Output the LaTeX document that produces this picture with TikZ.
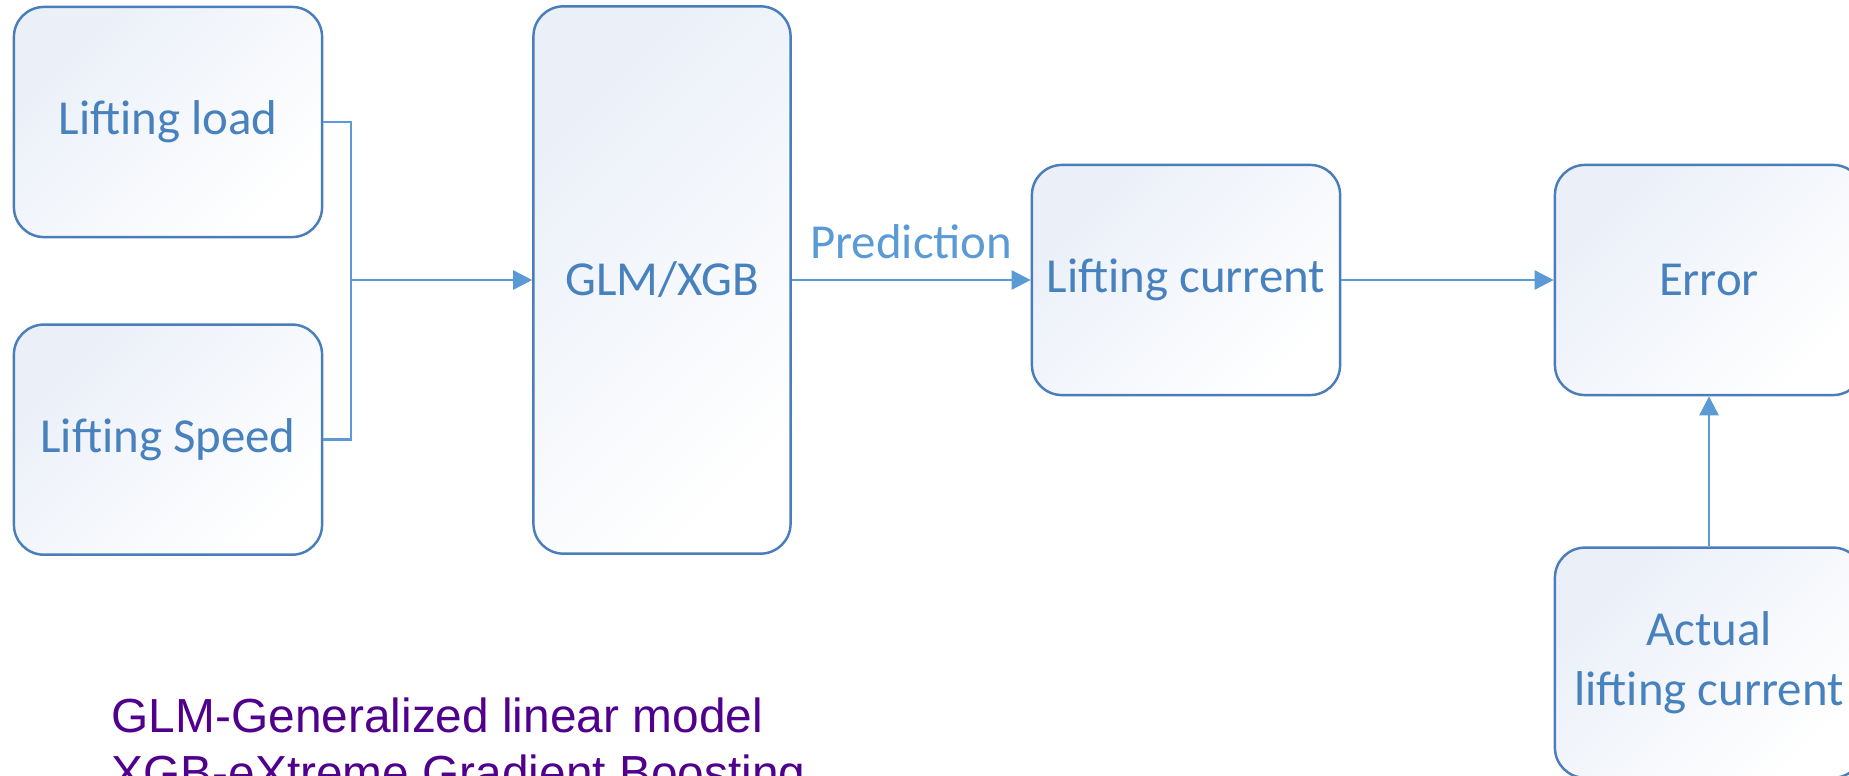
\documentclass[tikz,border=0pt]{standalone}
\usepackage{fontspec}
\setmainfont{Carlito}
\newfontfamily\notefont{Liberation Sans}
\usetikzlibrary{arrows.meta,positioning}
\definecolor{boxline}{RGB}{74,126,187}
\definecolor{boxtext}{RGB}{72,130,190}
\definecolor{flowline}{RGB}{91,155,213}
\definecolor{boxtop}{RGB}{234,239,248}
\definecolor{notecol}{RGB}{80,0,140}
\tikzset{
  block/.style ={draw=boxline,line width=0.7pt,rounded corners=0.3cm,
                 top color=boxtop,bottom color=white,shading angle=45,
                 minimum width=3.08cm,minimum height=2.3cm,inner sep=2pt,
                 align=center,text=boxtext,font=\fontsize{13.9}{16.8}\selectfont},
  model/.style ={block,minimum width=2.57cm,minimum height=5.47cm},
  link/.style  ={draw=flowline,line width=0.75pt},
  flow/.style  ={link,color=flowline,-{Triangle[length=1.9mm,width=1.9mm]}},
  lbl/.style   ={text=flowline,font=\fontsize{13.9}{16.8}\selectfont},
  note/.style  ={text=notecol,font=\notefont\fontsize{13.6}{17}\selectfont,
                 anchor=base west,inner sep=0pt},
}

\begin{document}
\begin{tikzpicture}[x=0.01cm,y=-0.01cm]
  \useasboundingbox (0,0) rectangle (1849,776);
  % inputs
  \node[block] (load) at (168,122) {Lifting load};
  \node[block,below=0.85cm of load] (speed) {Lifting Speed};
  % model and outputs
  \node[model] (glm) at (662,280) {GLM/XGB};
  \node[block] (cur) at (1186,280) {Lifting current};
  \node[block] (err) at (1709,280) {Error};
  \node[block,below=1.5cm of err] (act) {Actual\\lifting current};
  % connectors
  \coordinate (join) at (351,280);
  \draw[link] (load.east) -| (join) |- (speed.east);
  \draw[flow] (join) -- (glm.west);
  \draw[flow] (glm.east) -- (cur.west)
        node[midway,above=0.8mm,lbl]{Prediction};
  \draw[flow] (cur.east) -- (err.west);
  \draw[flow] (act.north) -- (err.south);
  % legend
  \node[note] (glmnote) at (111,732) {GLM-Generalized linear model};
  \node[note] (xgbnote) at (111,789) {XGB-eXtreme Gradient Boosting};
\end{tikzpicture}
\end{document}
